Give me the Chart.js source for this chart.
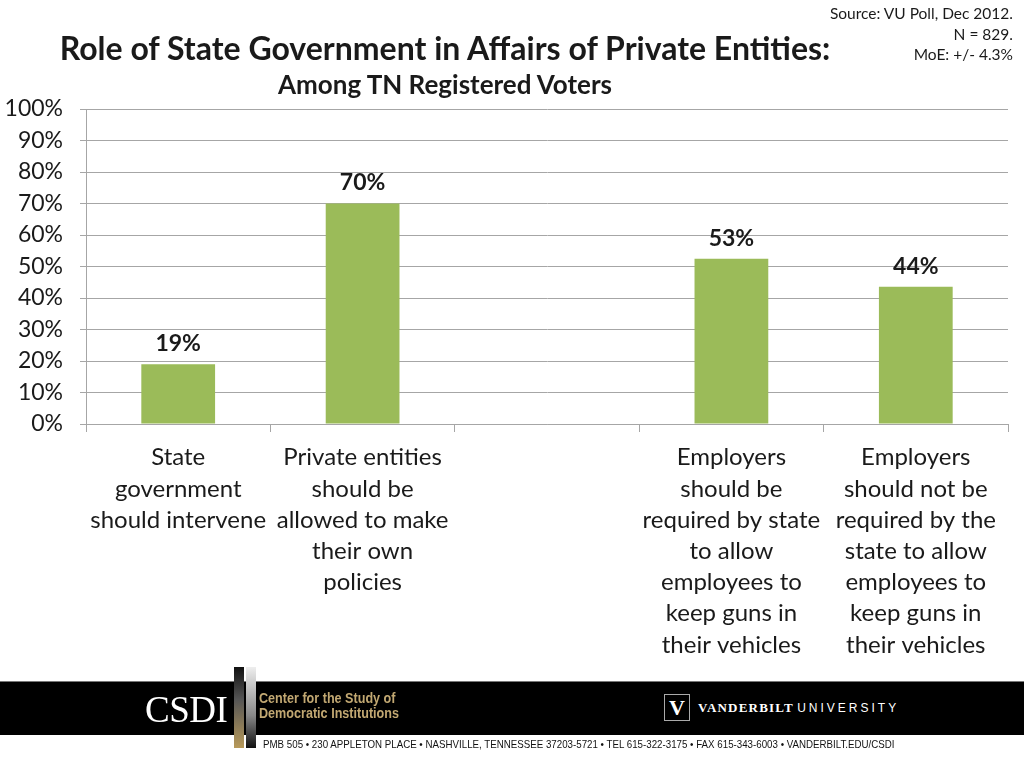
<!DOCTYPE html>
<html>
<head>
<meta charset="utf-8">
<script src="https://cdn.jsdelivr.net/npm/chart.js@4/dist/chart.umd.min.js"></script>
<style>
  body { margin: 0; width: 1024px; height: 768px; overflow: hidden; background: #fff; font-family: Lato, "Open Sans", sans-serif; position: relative; }
  #wrap { position: absolute; left: 0; top: 0; width: 1024px; height: 680px; }
  .title { position: absolute; left: 0; width: 890px; text-align: center; font-weight: bold; color: #1a1a1a; white-space: nowrap; }
  #t1 { top: 28px; font-size: 32px; }
  #t2 { top: 68px; font-size: 26px; }
  #src { position: absolute; right: 11px; top: 3px; text-align: right; font-size: 15.5px; line-height: 20.5px; color: #1a1a1a; }
  #band { position: absolute; left: 0; top: 681px; width: 1024px; height: 53px; background: #000; border-top: 1px solid #777; }
  #csdi { position: absolute; left: 145px; top: 688px; font-family: "Liberation Serif", serif; font-size: 37px; color: #fff; letter-spacing: -0.5px; }
  #barl { position: absolute; left: 234px; top: 667px; width: 10px; height: 81px; background: linear-gradient(#111, #555 40%, #b89a5a); }
  #barr { position: absolute; left: 246px; top: 667px; width: 10px; height: 81px; background: linear-gradient(#eee, #888 60%, #111); }
  #center { position: absolute; left: 259px; top: 690px; font-family: "Liberation Sans Narrow", "Liberation Sans", sans-serif; font-weight: bold; font-size: 15px; line-height: 15px; color: #c2a872; transform: scaleX(0.84); transform-origin: left top; }
  #addr { position: absolute; left: 263px; top: 738px; font-family: "Liberation Sans Narrow", "Liberation Sans", sans-serif; font-size: 11px; color: #111; white-space: nowrap; transform: scaleX(0.885); transform-origin: left top; }
  #vbox { position: absolute; left: 664px; top: 694px; width: 24px; height: 25px; border: 1px solid #aaa; color: #fff; font-family: "Liberation Serif", serif; font-weight: bold; font-size: 22px; text-align: center; line-height: 25px; }
  #vu { position: absolute; left: 698px; top: 699px; color: #fff; font-size: 13px; white-space: nowrap; }
  #vu b { font-family: "Liberation Serif", serif; letter-spacing: 1.2px; }
  #vu span { font-family: "Liberation Sans", sans-serif; font-size: 12px; letter-spacing: 3px; font-weight: normal; }
</style>
</head>
<body>
<div id="wrap"><canvas id="myChart"></canvas></div>
<div class="title" id="t1">Role of State Government in Affairs of Private Entities:</div>
<div class="title" id="t2">Among TN Registered Voters</div>
<div id="src">Source: VU Poll, Dec 2012.<br>N = 829.<br>MoE: +/- 4.3%</div>
<div id="band"></div>
<div id="csdi">CSDI</div>
<div id="barl"></div>
<div id="barr"></div>
<div id="center">Center for the Study of<br>Democratic Institutions</div>
<div id="addr">PMB 505 • 230 APPLETON PLACE • NASHVILLE, TENNESSEE 37203-5721 • TEL 615-322-3175 • FAX 615-343-6003 • VANDERBILT.EDU/CSDI</div>
<div id="vbox">V</div>
<div id="vu"><b>VANDERBILT</b> <span>UNIVERSITY</span></div>
<script>
const categories = [
  ["State", "government", "should intervene"],
  ["Private entities", "should be", "allowed to make", "their own", "policies"],
  "",
  ["Employers", "should be", "required by state", "to allow", "employees to", "keep guns in", "their vehicles"],
  ["Employers", "should not be", "required by the", "state to allow", "employees to", "keep guns in", "their vehicles"]
];
const values = [19, 70, null, 52.5, 43.6];
const valueLabels = ["19%", "70%", "", "53%", "44%"];
const yTicks = [0, 10, 20, 30, 40, 50, 60, 70, 80, 90, 100];

const labelPlugin = {
  id: "barLabels",
  afterDatasetsDraw(chart) {
    const ctx = chart.ctx;
    const meta = chart.getDatasetMeta(0);
    ctx.save();
    ctx.font = "bold 23px Lato, 'Open Sans', sans-serif";
    ctx.fillStyle = "#1a1a1a";
    ctx.textAlign = "center";
    ctx.textBaseline = "bottom";
    meta.data.forEach(function (bar, i) {
      if (values[i] == null) return;
      ctx.fillText(valueLabels[i], bar.x, bar.y - 9);
    });
    ctx.restore();
  }
};

new Chart("myChart", {
  type: "bar",
  data: {
    labels: categories,
    datasets: [{
      data: values,
      backgroundColor: "#9bbb59",
      categoryPercentage: 1,
      barPercentage: 0.4
    }]
  },
  options: {
    responsive: true,
    maintainAspectRatio: false,
    animation: false,
    layout: { padding: { top: 109, right: 16, left: 0, bottom: 0 } },
    plugins: { legend: { display: false }, tooltip: { enabled: false } },
    scales: {
      x: {
        afterFit: function (scale) { scale.height = 256; },
        grid: { drawOnChartArea: false, drawTicks: true, tickLength: 8, color: "#a6a6a6", offset: true },
        border: { color: "#a6a6a6" },
        ticks: {
          autoSkip: false, maxRotation: 0, minRotation: 0, padding: 10,
          color: "#1a1a1a",
          font: { family: "Lato, 'Open Sans', sans-serif", size: 24, lineHeight: 1.3 }
        }
      },
      y: {
        min: 0, max: 100,
        afterFit: function (scale) { scale.width = 86; },
        afterBuildTicks: function (scale) { scale.ticks = yTicks.map(function (v) { return { value: v }; }); },
        grid: { color: "#a6a6a6", tickLength: 6 },
        border: { color: "#a6a6a6" },
        ticks: {
          padding: 17,
          color: "#1a1a1a",
          font: { family: "Lato, 'Open Sans', sans-serif", size: 23 },
          callback: function (v) { return v + "%"; }
        }
      }
    }
  },
  plugins: [labelPlugin]
});
</script>
</body>
</html>
